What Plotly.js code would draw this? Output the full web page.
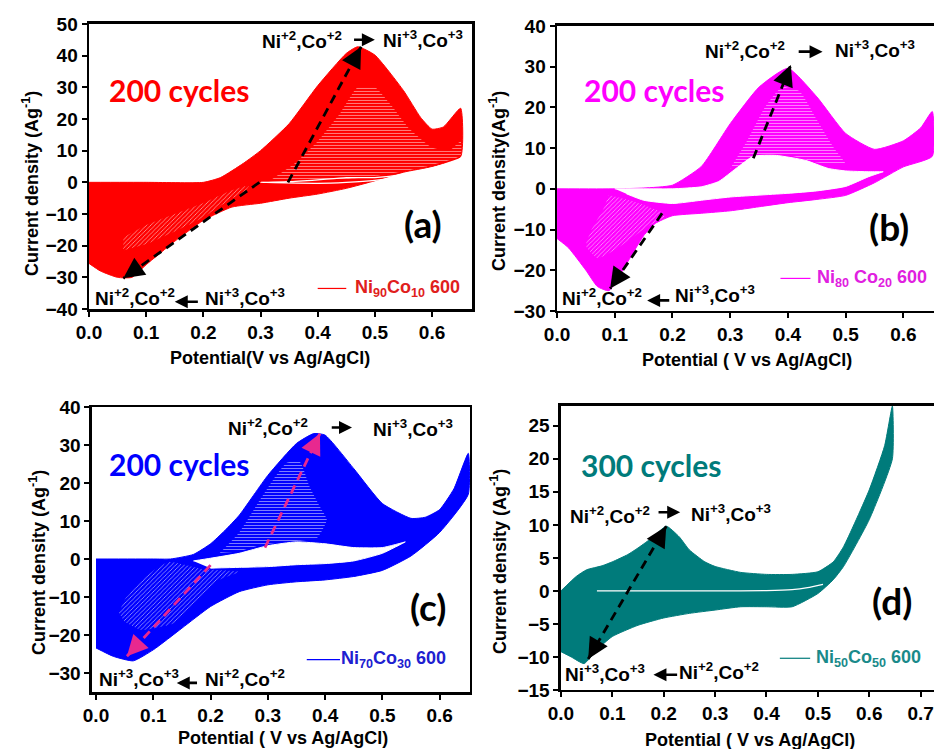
<!DOCTYPE html>
<html>
<head>
<meta charset="utf-8">
<script src="https://cdn.plot.ly/plotly-3.0.1.min.js"></script>
<style>
  html, body { margin: 0; padding: 0; background: #fff; }
  #chart { width: 934px; height: 749px; }
</style>
</head>
<body>
<div id="chart"></div>
<script>
// ---- (a) Ni90Co10 600, 200 cycles ----
// outermost (last) cycle: anodic sweep, then cathodic sweep
const Ea_last_a = [0, 0.1, 0.2, 0.23, 0.27, 0.3, 0.35, 0.4, 0.45, 0.47, 0.5, 0.55, 0.58, 0.6, 0.62, 0.65];
const Ia_last_a = [0, 0, 0, 1.5, 6, 10, 18.5, 30.5, 40.7, 42.8, 40.2, 29, 20.5, 16.8, 17.5, 23.4];
const Ec_last_a = [0.65, 0.6, 0.55, 0.5, 0.45, 0.4, 0.35, 0.3, 0.25, 0.2, 0.15, 0.1, 0.075, 0.05, 0.02, 0];
const Ic_last_a = [8.1, 5, 3.2, 0.5, -1.9, -3.7, -5, -6.6, -7.8, -12, -18.6, -26, -30, -30, -28, -25.6];
// first cycle (thin inner loop)
const Ea_first_a = [0.3, 0.35, 0.4, 0.45, 0.5, 0.55, 0.6, 0.65];
const Ia_first_a = [0, 0.2, 0.8, 1.5, 1.5, 2.5, 4.5, 7.5];
const Ec_first_a = [0.65, 0.6, 0.55, 0.5, 0.45, 0.4, 0.3];
const Ic_first_a = [7.5, 3.5, 1.8, 0.6, 0, -0.3, 0];
// zones swept by the early cycles (sparse traces)
const Eh_up_a = [0.32, 0.36, 0.4, 0.44, 0.47, 0.5, 0.53, 0.56, 0.6, 0.63, 0.65, 0.65, 0.6, 0.55, 0.5, 0.45, 0.4, 0.35];
const Ih_up_a = [1, 6, 13, 22, 30, 30, 24, 17, 11, 10, 13, 8.5, 5.5, 3.5, 2, 1, 0.5, 0.3];
const Eh_dn_a = [0.06, 0.1, 0.15, 0.2, 0.25, 0.28, 0.27, 0.25, 0.2, 0.15, 0.1, 0.06];
const Ih_dn_a = [-17.5, -13.5, -10, -6.5, -2.5, -1, -3.5, -5, -11, -15.5, -19.5, -21.5];

// ---- (b) Ni80Co20 600, 200 cycles ----
const Ea_last_b = [0, 0.1, 0.15, 0.2, 0.25, 0.3, 0.35, 0.4, 0.45, 0.5, 0.55, 0.6, 0.63, 0.65];
const Ia_last_b = [0, 0, 0.2, 0.9, 5.5, 16, 25, 29.6, 22.6, 13.6, 9.7, 11.8, 15, 19];
const Ec_last_b = [0.65, 0.6, 0.55, 0.5, 0.45, 0.4, 0.35, 0.3, 0.25, 0.2, 0.17, 0.15, 0.12, 0.09, 0.07, 0.05, 0.02, 0];
const Ic_last_b = [8, 5.4, 1.5, -1.6, -2.6, -3.4, -4.4, -5.4, -6, -6.6, -8.5, -11.5, -18.5, -25, -24, -20, -14.5, -12.2];
const Ea_first_b = [0.1, 0.15, 0.2, 0.25, 0.28, 0.31, 0.34, 0.38, 0.43, 0.47, 0.5, 0.54, 0.565];
const Ia_first_b = [0, 0, 0, 0.5, 1.8, 5, 8, 8.2, 7, 5, 4.4, 4.2, 4.2];
const Ec_first_b = [0.565, 0.54, 0.5, 0.45, 0.4, 0.3, 0.25, 0.2, 0.15, 0.12];
const Ic_first_b = [4.2, 3, 0.6, -0.5, -1.1, -2, -2.8, -3.6, -2.8, -1.2];
const Eh_up_b = [0.3, 0.33, 0.36, 0.39, 0.42, 0.45, 0.48, 0.5, 0.45, 0.4, 0.35, 0.32];
const Ih_up_b = [5, 12, 20, 25, 24, 17, 10, 6, 6.5, 8.3, 8.3, 6];
const Eh_dn_b = [0.09, 0.13, 0.16, 0.185, 0.185, 0.16, 0.13, 0.1, 0.07, 0.05, 0.06, 0.08];
const Ih_dn_b = [-1.5, -3, -4.5, -6, -7, -9, -12, -15, -17, -14, -10, -5];

// ---- (c) Ni70Co30 600, 200 cycles ----
const Ea_last_c = [0, 0.1, 0.13, 0.17, 0.2, 0.225, 0.25, 0.3, 0.35, 0.38, 0.4, 0.45, 0.5, 0.55, 0.575, 0.6, 0.625, 0.65];
const Ia_last_c = [0, 0, 0, 1.2, 4, 7.5, 11.5, 22, 30.4, 33, 32.6, 23.8, 14.6, 10.7, 11, 13, 18.5, 27.8];
const Ec_last_c = [0.65, 0.6, 0.55, 0.5, 0.45, 0.4, 0.35, 0.3, 0.25, 0.2, 0.15, 0.1, 0.065, 0.03, 0];
const Ic_last_c = [17, 7, 0.8, -3, -4.6, -5.5, -6, -6.8, -8.6, -12.5, -18.2, -23.9, -26.8, -25.6, -23.4];
const Ea_first_c = [0.17, 0.2, 0.25, 0.3, 0.35, 0.4, 0.45, 0.5, 0.54];
const Ia_first_c = [-0.5, 0.2, 1.5, 3.5, 4.5, 4, 3, 3, 4.5];
const Ec_first_c = [0.54, 0.5, 0.45, 0.4, 0.35, 0.3, 0.25, 0.2];
const Ic_first_c = [4.5, 1.5, -0.5, -1.2, -1.5, -2, -2.2, -2.4];
const Eh_up_c = [0.216, 0.25, 0.286, 0.31, 0.333, 0.356, 0.373, 0.39, 0.403, 0.386, 0.356, 0.327, 0.286, 0.25];
const Ih_up_c = [1.6, 7, 15.5, 21, 25.3, 25.5, 19, 14, 10.3, 5.5, 4.8, 4.5, 3.6, 2];
const Eh_dn_c = [0.04, 0.05, 0.086, 0.127, 0.185, 0.25, 0.215, 0.167, 0.138, 0.08, 0.05];
const Ih_dn_c = [-14.2, -10.8, -4.7, -0.8, -2.6, -3.4, -5.5, -12.6, -16.8, -18.7, -16.5];

// ---- (d) Ni50Co50 600, 300 cycles ----
const Ea_last_d = [0, 0.03, 0.05, 0.08, 0.1, 0.13, 0.15, 0.18, 0.205, 0.23, 0.25, 0.28, 0.3, 0.35, 0.4, 0.45, 0.5, 0.53, 0.55, 0.6, 0.63, 0.645];
const Ia_last_d = [0, 2.2, 3.2, 3.8, 4.4, 5.5, 6.5, 8.2, 9.8, 8.2, 6.2, 4.4, 3.7, 2.8, 2.5, 2.5, 2.9, 4.4, 6.7, 15.3, 22, 28];
const Ec_last_d = [0.645, 0.6, 0.55, 0.53, 0.5, 0.45, 0.4, 0.35, 0.3, 0.25, 0.2, 0.15, 0.1, 0.07, 0.045, 0.02, 0];
const Ic_last_d = [20, 10.8, 3.7, 1.7, -0.4, -2.4, -2.4, -2.4, -2.9, -3.4, -4.1, -5.2, -6.9, -8.9, -11, -10, -9.2];
const Ea_first_d = [0.07, 0.2, 0.3, 0.4, 0.45, 0.48, 0.51];
const Ia_first_d = [0, 0, 0, 0.05, 0.2, 0.5, 1.0];

// ---- labels ----
const panelLetters = ['(a)', '(b)', '(c)', '(d)'];
const cycleLabels = ['200 cycles', '200 cycles', '200 cycles', '300 cycles'];
const sampleNames = [
  'Ni<sub>90</sub>Co<sub>10</sub> 600',
  'Ni<sub>80</sub> Co<sub>20</sub> 600',
  'Ni<sub>70</sub>Co<sub>30</sub> 600',
  'Ni<sub>50</sub>Co<sub>50</sub> 600'
];
const xTitles = ['Potential(V vs Ag/AgCl)', 'Potential ( V vs Ag/AgCl)', 'Potential ( V vs Ag/AgCl)', 'Potential ( V vs Ag/AgCl)'];
const yTitles = ['Current density (Ag<sup>-1</sup>)', 'Current density(Ag<sup>-1</sup>)', 'Current density (Ag<sup>-1</sup>)', 'Current density (Ag<sup>-1</sup>)'];
const lowState = 'Ni<sup>+2</sup>,Co<sup>+2</sup>';
const highState = 'Ni<sup>+3</sup>,Co<sup>+3</sup>';

const colors = ['#ff0000', '#ff00ff', '#0000ff', '#007b7b'];
const legendColors = ['#e0201c', '#e020e0', '#2020d0', '#1a8a8a'];

const TICK = 'Liberation Sans, Arial, sans-serif';
const LABEL = 'Lato, sans-serif';

// closed CV loop: forward (anodic) sweep followed by reverse (cathodic) sweep
function loop(Ea, Ia, Ec, Ic) {
  return { x: Ea.concat(Ec), y: Ia.concat(Ic) };
}

const panels = [
  { last: loop(Ea_last_a, Ia_last_a, Ec_last_a, Ic_last_a), first: loop(Ea_first_a, Ia_first_a, Ec_first_a, Ic_first_a), holeFill: false,
    hatch: [{ x: Eh_up_a, y: Ih_up_a, shape: '-' }, { x: Eh_dn_a, y: Ih_dn_a, shape: '/' }] },
  { last: loop(Ea_last_b, Ia_last_b, Ec_last_b, Ic_last_b), first: loop(Ea_first_b, Ia_first_b, Ec_first_b, Ic_first_b), holeFill: true,
    hatch: [{ x: Eh_up_b, y: Ih_up_b, shape: '-' }, { x: Eh_dn_b, y: Ih_dn_b, shape: '/' }] },
  { last: loop(Ea_last_c, Ia_last_c, Ec_last_c, Ic_last_c), first: loop(Ea_first_c, Ia_first_c, Ec_first_c, Ic_first_c), holeFill: true,
    hatch: [{ x: Eh_up_c, y: Ih_up_c, shape: '-' }, { x: Eh_dn_c, y: Ih_dn_c, shape: '/' }] },
  { last: loop(Ea_last_d, Ia_last_d, Ec_last_d, Ic_last_d), first: { x: Ea_first_d, y: Ia_first_d }, holeFill: false, hatch: [] }
];

const axisIds = ['', '2', '3', '4'];
const traces = [];
panels.forEach((P, i) => {
  const xa = 'x' + axisIds[i], ya = 'y' + axisIds[i];
  traces.push({
    x: P.last.x, y: P.last.y, xaxis: xa, yaxis: ya, type: 'scatter', mode: 'lines',
    line: { color: colors[i], width: 1, shape: 'spline', smoothing: 0.5 },
    fill: 'toself', fillcolor: colors[i], hoverinfo: 'skip', showlegend: false
  });
  P.hatch.forEach(h => traces.push({
    x: h.x, y: h.y, xaxis: xa, yaxis: ya, type: 'scatter', mode: 'lines',
    line: { width: 0, shape: 'spline', smoothing: 0.5 },
    fill: 'toself', fillcolor: colors[i],
    fillpattern: { shape: h.shape, fgcolor: '#ffffff', fgopacity: 0.75, bgcolor: colors[i], size: 3, solidity: 0.22, fillmode: 'replace' },
    hoverinfo: 'skip', showlegend: false
  }));
  traces.push({
    x: P.first.x, y: P.first.y, xaxis: xa, yaxis: ya, type: 'scatter', mode: 'lines',
    line: { color: '#ffffff', width: P.holeFill ? 1 : 1.3, shape: 'spline', smoothing: 0.5 },
    fill: P.holeFill ? 'toself' : 'none', fillcolor: '#ffffff', hoverinfo: 'skip', showlegend: false
  });
});

// axis placement
const domains = [
  { x: [0.0953, 0.5054], y: [0.5874, 0.968], xr: [0, 0.67], yr: [-40, 50], dy: 10 },
  { x: [0.5964, 1.0], y: [0.5848, 0.9653], xr: [0, 0.653], yr: [-30, 40], dy: 10 },
  { x: [0.0985, 0.5032], y: [0.0761, 0.4566], xr: [-0.007, 0.653], yr: [-35, 40], dy: 10 },
  { x: [0.6006, 1.0], y: [0.0788, 0.458], xr: [0, 0.726], yr: [-15, 28], dy: 5 }
];
// axis-title centres, in pixels of the 934x749 page
const xTitlePos = [[270, 358], [747, 360], [283, 738], [750, 740]];
const yTitlePos = [[30, 184], [497, 181], [37, 563], [498, 562]];

const W = 934, H = 749;
const layout = {
  width: W, height: H,
  margin: { l: 0, r: 0, t: 0, b: 0 },
  paper_bgcolor: '#ffffff', plot_bgcolor: '#ffffff',
  showlegend: false,
  annotations: [], shapes: []
};

const titleFont = { family: TICK, size: 18, color: '#000', weight: 'bold' };
domains.forEach((d, i) => {
  const n = axisIds[i];
  layout['xaxis' + n] = {
    domain: d.x, range: d.xr, anchor: 'y' + n, dtick: 0.1, tick0: 0, tickformat: '.1f',
    showline: true, linecolor: '#000', linewidth: 2.5, mirror: true,
    ticks: 'outside', ticklen: 5, tickwidth: 2, tickcolor: '#000',
    showgrid: false, zeroline: false,
    tickfont: { family: TICK, size: 19, color: '#000', weight: 'bold' }
  };
  layout['yaxis' + n] = {
    domain: d.y, range: d.yr, anchor: 'x' + n, dtick: d.dy, tick0: 0,
    showline: true, linecolor: '#000', linewidth: 2.5, mirror: true,
    ticks: 'outside', ticklen: 5, tickwidth: 2, tickcolor: '#000',
    showgrid: false, zeroline: false,
    tickfont: { family: TICK, size: 19, color: '#000', weight: 'bold' }
  };
  layout.annotations.push({ xref: 'paper', yref: 'paper', x: xTitlePos[i][0] / W, y: 1 - xTitlePos[i][1] / H,
    text: xTitles[i], showarrow: false, xanchor: 'center', yanchor: 'middle', font: titleFont });
  layout.annotations.push({ xref: 'paper', yref: 'paper', x: yTitlePos[i][0] / W, y: 1 - yTitlePos[i][1] / H,
    text: yTitles[i], textangle: -90, showarrow: false, xanchor: 'center', yanchor: 'middle', font: titleFont });
});

// per-panel decorations, in data units of each panel
const deco = [
  { cyc: [0.157, 29.2], letter: [0.585, -12.9], leg: [0.40, 0.45, -33.5, 0.462],
    up: [0.372, 45, 0.461, 0.50, 45, 0.585, 45.3], down: [0.08, -36.3, 0.193, 0.15, -37.7, 0.272, -36.3], downLeft: lowState, downRight: highState,
    dashUp: [0.348, 0, 0.476, 42.8], dashDown: [0.298, 0, 0.06, -30.3], dashColor: '#000', both: false },
  { cyc: [0.168, 24.3], letter: [0.575, -9.3], leg: [0.387, 0.439, -22, 0.446],
    up: [0.325, 34.1, 0.416, 0.46, 33.7, 0.55, 34.4], down: [0.078, -26.6, 0.197, 0.156, -27.4, 0.273, -25.8], downLeft: lowState, downRight: highState,
    dashUp: [0.34, 7.5, 0.405, 30.4], dashDown: [0.182, -6, 0.092, -24.5], dashColor: '#000', both: false },
  { cyc: [0.145, 25.1], letter: [0.58, -12.5], leg: [0.368, 0.426, -26.5, 0.424],
    up: [0.30, 34.8, 0.409, 0.447, 34.6, 0.554, 34.6], down: [0.075, -31.3, 0.179, 0.141, -32.6, 0.26, -31.3], downLeft: highState, downRight: lowState,
    dashUp: [0.295, 3, 0.391, 33], dashDown: [0.2, -1.6, 0.054, -25.6], dashColor: '#e8288f', both: false },
  { cyc: [0.175, 19.1], letter: [0.644, -1.4], leg: [0.426, 0.485, -10.2, 0.492],
    up: [0.096, 11.5, 0.187, 0.232, 11.9, 0.33, 11.8], down: [0.086, -12.5, 0.229, 0.18, -12.7, 0.308, -12.1], downLeft: highState, downRight: lowState,
    dashUp: [0.053, -10.3, 0.205, 9.8], dashDown: null, dashColor: '#000', both: true }
];

function addArrowHead(xr, yr, x0, y0, x1, y1, color) {
  // head at (x1,y1), pointing away from (x0,y0)
  const f = 0.12;
  layout.annotations.push({
    xref: xr, yref: yr, axref: xr, ayref: yr,
    x: x1, y: y1, ax: x1 - f * (x1 - x0), ay: y1 - f * (y1 - y0),
    text: '', showarrow: true, arrowhead: 2, arrowsize: 1.6, arrowwidth: 2.6, arrowcolor: color, standoff: 0
  });
}

deco.forEach((D, i) => {
  const n = axisIds[i];
  const xr = 'x' + n, yr = 'y' + n;
  const txt = (x, y, t, font, xanchor) => layout.annotations.push({
    xref: xr, yref: yr, x: x, y: y, text: t, showarrow: false, xanchor: xanchor || 'center', yanchor: 'middle', font: font
  });
  txt(D.cyc[0], D.cyc[1], cycleLabels[i], { family: LABEL, size: 30, color: colors[i], weight: 'bold' });
  txt(D.letter[0], D.letter[1], panelLetters[i], { family: LABEL, size: 37, color: '#000', weight: 'bold' });
  txt(D.leg[3], D.leg[2], sampleNames[i], { family: TICK, size: 18, color: legendColors[i], weight: 'bold' }, 'left');
  layout.shapes.push({ type: 'line', xref: xr, yref: yr, x0: D.leg[0], x1: D.leg[1], y0: D.leg[2], y1: D.leg[2], line: { color: colors[i], width: 1.2 } });

  const stFont = { family: TICK, size: 19, color: '#000', weight: 'bold' };
  txt(D.up[0], D.up[1], lowState, stFont);
  txt(D.up[5], D.up[6], highState, stFont);
  layout.annotations.push({ xref: xr, yref: yr, axref: xr, ayref: yr, x: D.up[3], y: D.up[4], ax: D.up[2], ay: D.up[4],
    text: '', showarrow: true, arrowhead: 2, arrowsize: 1, arrowwidth: 2.6, arrowcolor: '#000', standoff: 0 });
  txt(D.down[0], D.down[1], D.downLeft, stFont);
  txt(D.down[5], D.down[6], D.downRight, stFont);
  layout.annotations.push({ xref: xr, yref: yr, axref: xr, ayref: yr, x: D.down[3], y: D.down[4], ax: D.down[2], ay: D.down[4],
    text: '', showarrow: true, arrowhead: 2, arrowsize: 1, arrowwidth: 2.6, arrowcolor: '#000', standoff: 0 });

  // dashed guide arrows between the redox peaks
  const u = D.dashUp;
  layout.shapes.push({ type: 'line', xref: xr, yref: yr, x0: u[0], y0: u[1], x1: u[2], y1: u[3], line: { color: D.dashColor, width: 2.8, dash: '9px,6px' } });
  addArrowHead(xr, yr, u[0], u[1], u[2], u[3], D.dashColor);
  if (D.both) addArrowHead(xr, yr, u[2], u[3], u[0], u[1], D.dashColor);
  if (D.dashDown) {
    const w = D.dashDown;
    layout.shapes.push({ type: 'line', xref: xr, yref: yr, x0: w[0], y0: w[1], x1: w[2], y1: w[3], line: { color: D.dashColor, width: 2.8, dash: '9px,6px' } });
    addArrowHead(xr, yr, w[0], w[1], w[2], w[3], D.dashColor);
  }
});

Plotly.newPlot('chart', traces, layout, { staticPlot: true, displayModeBar: false });
</script>
</body>
</html>
